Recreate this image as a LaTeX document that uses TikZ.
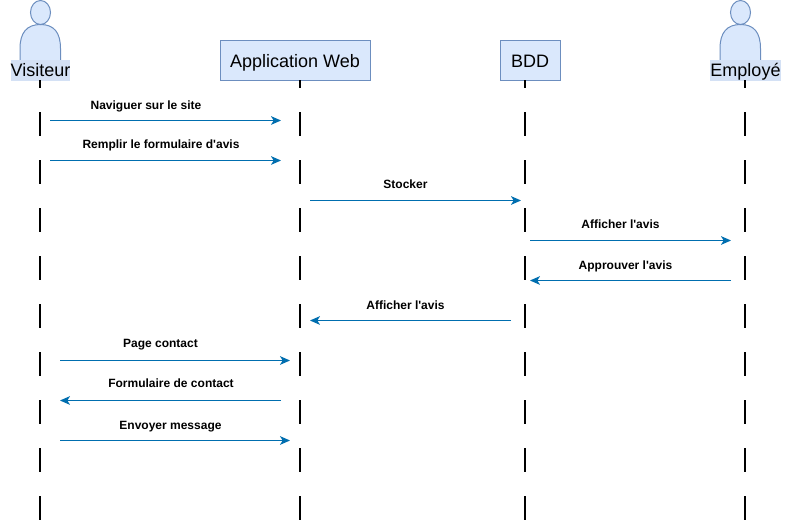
\documentclass[tikz,border=0pt]{standalone}
\usepackage{fontspec}
\setmainfont{Liberation Sans}[Ligatures=TeXOff]
\usetikzlibrary{arrows.meta}
\definecolor{boxfill}{HTML}{DAE8FC}
\definecolor{boxline}{HTML}{6C8EBF}
\definecolor{labelfill}{HTML}{D4E1F5}
\definecolor{msgblue}{HTML}{006EAF}
\tikzset{
  x=0.75pt,y=-0.75pt,
  boxnode/.style={draw=boxline,fill=boxfill,line width=0.75pt,minimum height=30pt,inner sep=0pt,text=black,text height=12pt,text depth=1.5pt,font=\fontsize{13.5}{16}\selectfont},
  actorlabel/.style={fill=labelfill,inner sep=0pt,text height=12.6pt,text depth=2.9pt,font=\fontsize{13.5}{16}\selectfont},
  actorshape/.style={draw=boxline,fill=boxfill,line width=0.75pt},
  lifeline/.style={draw=black,line width=1.5pt,dash pattern=on 18pt off 18pt,dash phase=12pt},
  msgarrow/.style={draw=msgblue,line width=0.75pt,-{Stealth[length=7.5pt,width=6.5pt,inset=2pt]}},
  msglabel/.style={inner sep=0pt,anchor=base,font=\fontsize{9}{11}\selectfont\bfseries},
}
\begin{document}
\begin{tikzpicture}
\useasboundingbox (0,0) rectangle (790,523);
\begin{scope}[xshift=0pt,yshift=-0.375pt]
% lifelines' free ends
\coordinate (endv) at (40,520);
\coordinate (enda) at (300,520);
\coordinate (endb) at (525,520);
\coordinate (ende) at (745,520);
% actors
\draw[actorshape] (20,62) -- (20,48) .. controls (20,32) and (27,24) .. (40.5,24) .. controls (54,24) and (60.5,32) .. (60.5,48) -- (60.5,62);
\draw[actorshape] (40.5,12) ellipse [x radius=10,y radius=12];
\draw[actorshape] (720,62) -- (720,48) .. controls (720,32) and (727,24) .. (740.5,24) .. controls (754,24) and (760.5,32) .. (760.5,48) -- (760.5,62);
\draw[actorshape] (740.5,12) ellipse [x radius=10,y radius=12];
\node[actorlabel,minimum width=44.25pt] (visiteur) at (40.5,70) {Visiteur};
\node[actorlabel,minimum width=53pt] (employe) at (745.5,70) {Employé};
% boxes
\node[boxnode,minimum width=112.5pt] (app) at (295,60) {Application Web};
\node[boxnode,minimum width=45pt] (bdd) at (530,60) {BDD};
% lifelines
\draw[lifeline] (40,80) -- (endv);
\draw[lifeline] (300,80) -- (enda);
\draw[lifeline] (525,80) -- (endb);
\draw[lifeline] (745,80) -- (ende);
% message ends
\coordinate (m1a) at (50,120);  \coordinate (m1b) at (281,120);
\coordinate (m2a) at (50,160);  \coordinate (m2b) at (281,160);
\coordinate (m3a) at (310,200); \coordinate (m3b) at (521,200);
\coordinate (m4a) at (530,240); \coordinate (m4b) at (731,240);
\coordinate (m5a) at (731,280); \coordinate (m5b) at (530,280);
\coordinate (m6a) at (511,320); \coordinate (m6b) at (310,320);
\coordinate (m7a) at (60,360);  \coordinate (m7b) at (290,360);
\coordinate (m8a) at (281,400); \coordinate (m8b) at (60,400);
\coordinate (m9a) at (60,440);  \coordinate (m9b) at (290,440);
\foreach \i in {1,...,9} \draw[msgarrow] (m\i a) -- (m\i b);
\end{scope}
% labels
\node[msglabel] (l1) at (146,109.5) {Naviguer sur le site};
\node[msglabel] (l2) at (161,149) {Remplir le formulaire d'avis};
\node[msglabel] (l3) at (405.5,189) {Stocker};
\node[msglabel] (l4) at (620.5,229) {Afficher l'avis};
\node[msglabel] (l5) at (625.5,270) {Approuver l'avis};
\node[msglabel] (l6) at (405.5,310) {Afficher l'avis};
\node[msglabel] (l7) at (160.5,347.5) {Page contact};
\node[msglabel] (l8) at (171,387.5) {Formulaire de contact};
\node[msglabel] (l9) at (170.5,429.5) {Envoyer message};
\end{tikzpicture}
\end{document}
